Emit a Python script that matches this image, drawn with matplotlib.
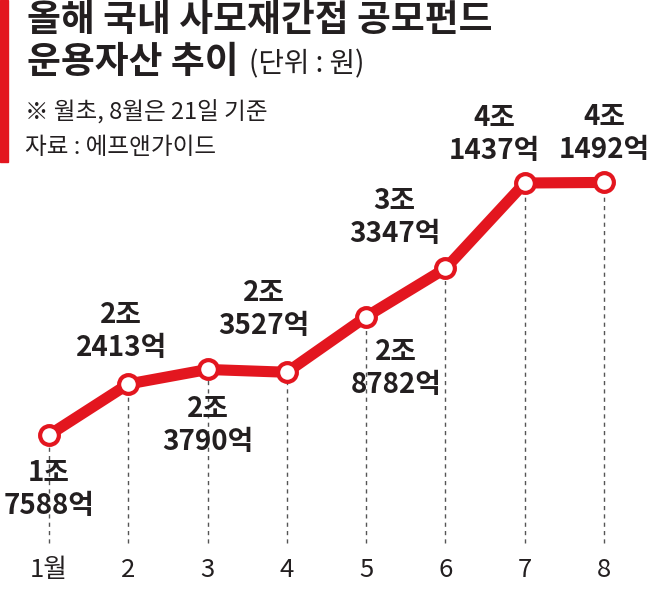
import matplotlib.pyplot as plt
from matplotlib.patches import Rectangle

plt.rcParams['font.family'] = ['Noto Sans CJK KR', 'DejaVu Sans']

# ==========================
# DATA (단위: 억원)
# ==========================

months = [1, 2, 3, 4, 5, 6, 7, 8]
month_labels = ["1월", "2", "3", "4", "5", "6", "7", "8"]
assets = [17588, 22413, 23790, 23527, 28782, 33347, 41437, 41492]

# label offsets in pixels (dx, dy of first line; second line below it)
label_pos = [(0, -38), (-7, 69), (0, -40), (-23, 79),
             (30, -35), (-51, 67), (-30, 65), (0, 65)]

RED = "#e3161f"
DARK = "#231f20"

# ==========================
# FIGURE
# ==========================

fig = plt.figure(figsize=(6.5, 5.91), dpi=100)
ax = fig.add_axes([0, 0, 1, 1])
ax.set_xlim(0.382, 8.58)
ax.set_ylim(2824, 58758)
ax.axis("off")

# dashed guides down to the month labels
fig.canvas.draw()
dash_bottom = ax.transData.inverted().transform((0, 591 - 543))[1]
ax.vlines(months, dash_bottom, assets, colors="#555555",
          linestyles=(0, (3, 3)), linewidth=1, zorder=1)

ax.plot(months, assets, color=RED, linewidth=8, zorder=2,
        solid_capstyle="round", solid_joinstyle="round")
ax.plot(months, assets, linestyle="none", marker="o", markersize=13.5,
        markerfacecolor="white", markeredgecolor=RED,
        markeredgewidth=3, zorder=3)

for m, v, (dx, dy) in zip(months, assets, label_pos):
    top = f"{v // 10000}조"
    bottom = f"{v % 10000}억"
    ax.annotate(top, (m, v), xytext=(dx, dy), textcoords="offset pixels",
                ha="center", va="center", fontsize=20, fontweight="black",
                color=DARK, zorder=4)
    ax.annotate(bottom, (m, v), xytext=(dx, dy - 33),
                textcoords="offset pixels", ha="center", va="center",
                fontsize=20, fontweight="black", color=DARK, zorder=4)

for m, lab in zip(months, month_labels):
    ax.text(m, 0.036, lab, transform=ax.get_xaxis_transform(),
            ha="center", va="center", fontsize=18.5, color=DARK)

# ==========================
# TITLE BLOCK
# ==========================

fig.patches.append(Rectangle((0, 1 - 162 / 591), 8 / 650, 162 / 591,
                             transform=fig.transFigure, color=RED))

fig.text(27 / 650, 1 - 20 / 591, "올해 국내 사모재간접 공모펀드",
         ha="left", va="center", fontsize=26.5, fontweight="black", color=DARK)
t = fig.text(27 / 650, 1 - 62 / 591, "운용자산 추이",
             ha="left", va="center", fontsize=26.5, fontweight="black",
             color=DARK)
fig.canvas.draw()
bb = t.get_window_extent()
fig.text((bb.x1 + 10) / 650, 1 - 64 / 591, "(단위 : 원)",
         ha="left", va="center", fontsize=20, color=DARK)

fig.text(25 / 650, 1 - 112 / 591, "※ 월초, 8월은 21일 기준",
         ha="left", va="center", fontsize=17, color=DARK)
fig.text(25 / 650, 1 - 148 / 591, "자료 : 에프앤가이드",
         ha="left", va="center", fontsize=17, color=DARK)

fig.savefig("out.png", dpi=100, facecolor="white")
